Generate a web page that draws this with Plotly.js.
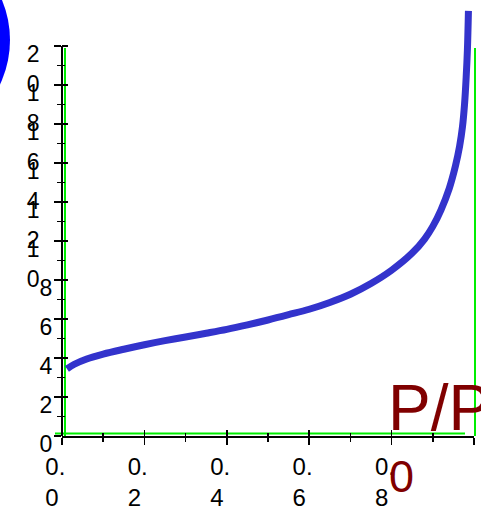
<!DOCTYPE html>
<html><head><meta charset="utf-8">
<script src="https://cdn.plot.ly/plotly-3.0.1.min.js"></script>
<style>html,body{margin:0;padding:0;background:#fff;}#chart{width:481px;height:508px;}</style>
</head><body><div id="chart"></div>
<script>
// ---- data ----
const relPressure = [0.012, 0.03, 0.06, 0.1, 0.15, 0.2, 0.25, 0.3, 0.35, 0.4, 0.45, 0.5, 0.55, 0.6, 0.65, 0.7, 0.75, 0.8, 0.85, 0.88, 0.9, 0.92, 0.94, 0.955, 0.965, 0.972, 0.977, 0.981, 0.984, 0.9865];
const adsorbed    = [3.44, 3.68, 3.95, 4.2, 4.45, 4.68, 4.89, 5.08, 5.27, 5.47, 5.7, 5.95, 6.22, 6.5, 6.85, 7.27, 7.82, 8.5, 9.38, 10.1, 10.75, 11.6, 12.7, 13.85, 14.85, 15.85, 17.0, 18.4, 19.8, 21.8];

const xTickVals   = [0, 0.2, 0.4, 0.6, 0.8, 1.0];
const xTickLabels = ["0.0", "0.2", "0.4", "0.6", "0.8", "1.0"];
const xMinorVals  = [0.1, 0.3, 0.5, 0.7, 0.9];
const yTickVals   = [0, 2, 4, 6, 8, 10, 12, 14, 16, 18, 20];
const yTickLabels = ["0", "2", "4", "6", "8", "10", "12", "14", "16", "18", "20"];
const yMinorVals  = [1, 3, 5, 7, 9, 11, 13, 15, 17, 19];
const xTitleMain  = "P/P";
const xTitleSub   = "0";

// ---- layout helpers ----
const NB = "\u00a0";
function wrapX(s) { const i = s.indexOf(".") + 1; return s.slice(0, i) + NB + NB + "<br>" + s.slice(i) + NB + NB + NB; }
function wrapY(s) { return s.length < 2 ? s + "<br>" + NB : s[0] + NB + NB + "<br>" + s.slice(1) + NB + NB; }

const W = 481, H = 508, ML = 62, MR = 7, MT = 0, MB = 72;
const plotH = H - MT - MB;          // 436 px
const px20 = 390;                   // pixel height of the value 20
const YMAX = 20 * plotH / px20;

const FONT = "Liberation Sans, Arial, sans-serif";
const GREEN = "#00ee00";

const trace = {
  x: relPressure, y: adsorbed, type: "scatter", mode: "lines",
  line: {color: "#3333cc", width: 7, shape: "spline", smoothing: 1},
  hoverinfo: "skip", xaxis: "x", yaxis: "y"
};
// empty trace so the overlay axes (used for the inner half of the ticks) exist
const overlayHolder = {x: [], y: [], type: "scatter", mode: "lines", xaxis: "x2", yaxis: "y2", hoverinfo: "skip"};

const tickCommon = {tickwidth: 1.5, tickcolor: "#000"};

const layout = {
  width: W, height: H,
  margin: {l: ML, r: MR, t: MT, b: MB, pad: 0},
  paper_bgcolor: "#fff", plot_bgcolor: "#fff",
  showlegend: false,
  font: {family: FONT, color: "#000"},
  xaxis: Object.assign({
    range: [0, 1], showgrid: false, zeroline: false, automargin: false,
    showline: true, linecolor: "#000", linewidth: 2,
    ticks: "outside", ticklen: 7,
    tickmode: "array", tickvals: xTickVals, ticktext: xTickLabels.map(wrapX),
    tickfont: {family: FONT, size: 24, color: "#000"},
    ticklabelstandoff: 1,
    minor: Object.assign({tickmode: "array", tickvals: xMinorVals, ticks: "outside", ticklen: 4, showgrid: false}, tickCommon)
  }, tickCommon),
  xaxis2: Object.assign({
    overlaying: "x", anchor: "y2", side: "bottom", range: [0, 1],
    showgrid: false, zeroline: false, showline: false, showticklabels: false, automargin: false,
    ticks: "inside", ticklen: 6,
    tickmode: "array", tickvals: xTickVals,
    minor: Object.assign({tickmode: "array", tickvals: xMinorVals, ticks: "inside", ticklen: 3, showgrid: false}, tickCommon)
  }, tickCommon),
  yaxis: Object.assign({
    range: [0, YMAX], showgrid: false, zeroline: false, automargin: false,
    showline: false,
    ticks: "outside", ticklen: 7,
    tickmode: "array", tickvals: yTickVals, ticktext: yTickLabels.map(wrapY),
    tickfont: {family: FONT, size: 23, color: "#000"},
    ticklabelshift: 23, ticklabelstandoff: -3,
    minor: Object.assign({tickmode: "array", tickvals: yMinorVals, ticks: "outside", ticklen: 4, showgrid: false}, tickCommon)
  }, tickCommon),
  yaxis2: Object.assign({
    overlaying: "y", anchor: "x2", side: "left", range: [0, YMAX],
    showgrid: false, zeroline: false, showline: false, showticklabels: false, automargin: false,
    ticks: "inside", ticklen: 6,
    tickmode: "array", tickvals: yTickVals,
    minor: Object.assign({tickmode: "array", tickvals: yMinorVals, ticks: "inside", ticklen: 3, showgrid: false}, tickCommon)
  }, tickCommon),
  shapes: [
    {type: "circle", xref: "paper", yref: "paper", xsizemode: "pixel", ysizemode: "pixel",
     xanchor: 0, yanchor: 1, x0: -260, x1: -52, y0: -144, y1: 64,
     fillcolor: "#0000ff", line: {width: 0}, layer: "above"},
    {type: "line", xref: "paper", yref: "y", x0: 0, x1: 0, y0: 0, y1: 20,
     line: {color: "#000", width: 2}, layer: "above"},
    {type: "line", xref: "paper", yref: "paper", xsizemode: "pixel", ysizemode: "pixel",
     xanchor: 0, yanchor: 0, x0: 3, x1: 3, y0: 0, y1: 388, line: {color: GREEN, width: 2}, layer: "below"},
    {type: "line", xref: "paper", yref: "paper", xsizemode: "pixel", ysizemode: "pixel",
     xanchor: 0, yanchor: 0, x0: -7, x1: 403, y0: 2.5, y1: 2.5, line: {color: GREEN, width: 2}, layer: "below"},
    {type: "line", xref: "paper", yref: "paper", xsizemode: "pixel", ysizemode: "pixel",
     xanchor: 0, yanchor: 0, x0: 413, x1: 413, y0: 0, y1: 388, line: {color: GREEN, width: 2}, layer: "below"}
  ],
  annotations: [
    {text: xTitleMain, xref: "paper", yref: "paper", x: (386 - ML) / 412, y: (plotH - 446) / plotH,
     xanchor: "left", yanchor: "bottom", showarrow: false,
     font: {family: FONT, size: 64, color: "#800000"}},
    {text: xTitleSub, xref: "paper", yref: "paper", x: (387 - ML) / 412, y: (plotH - 503.5) / plotH,
     xanchor: "left", yanchor: "bottom", showarrow: false,
     font: {family: FONT, size: 45, color: "#800000"}}
  ]
};

Plotly.newPlot("chart", [trace, overlayHolder], layout, {displayModeBar: false, staticPlot: true});
</script>
</body></html>
